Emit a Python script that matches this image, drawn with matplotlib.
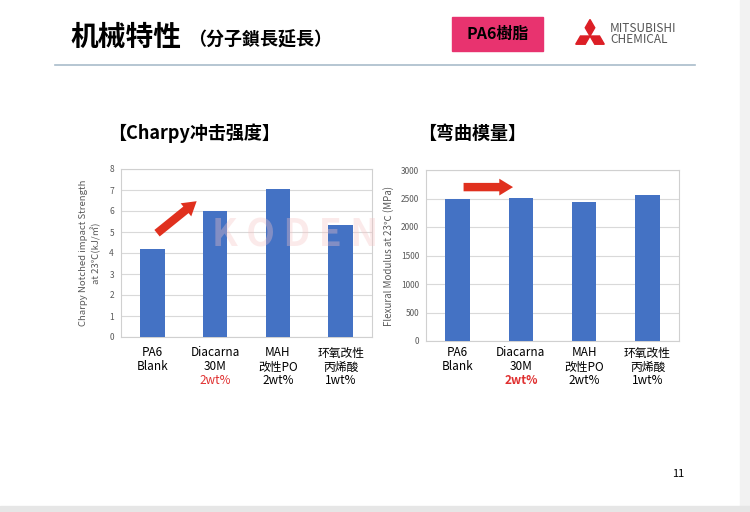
import numpy as np
import matplotlib
matplotlib.use("Agg")
import matplotlib.pyplot as plt
from matplotlib.patches import Rectangle, Polygon

plt.rcParams["font.family"] = ["Noto Sans CJK SC", "DejaVu Sans"]

# Data
cat_line1 = ["PA6", "Diacarna", "MAH", "环氧改性"]
cat_line2 = ["Blank", "30M", "改性PO", "丙烯酸"]
cat_line3 = ["", "2wt%", "2wt%", "1wt%"]
charpy = [4.2, 6.0, 7.05, 5.35]
flexural = [2490, 2510, 2440, 2570]
charpy_ticks = [0, 1, 2, 3, 4, 5, 6, 7, 8]
flex_ticks = [0, 500, 1000, 1500, 2000, 2500, 3000]

# arrow annotations (data coords)
charpy_arrow = ((0.04, 4.86), (0.74, 6.55))
flex_arrow = ((0.05, 2700), (0.92, 2700))

W, H = 750, 512
BAR = "#4472C4"
GRID = "#d9d9d9"

fig = plt.figure(figsize=(7.5, 5.12), dpi=100)
fig.patch.set_facecolor("white")


def px(x, y):
    # pixel position (from top-left) -> figure fraction
    return (x / W, 1 - y / H)


# slide border strips
fig.patches.append(Rectangle((0.987, 0), 0.013, 1, transform=fig.transFigure,
                             color="#f2f2f2", zorder=0))
fig.patches.append(Rectangle((0, 0), 1, 0.012, transform=fig.transFigure,
                             color="#e6e6e6", zorder=0))

# header
fig.text(*px(70, 38), "机械特性", fontsize=20, fontweight="bold", va="center")
fig.text(*px(188, 40), "（分子鎖長延長）", fontsize=13, fontweight="bold", va="center")
fig.lines.append(plt.Line2D([0.073, 0.927], [0.873, 0.873], transform=fig.transFigure,
                            color="#a9bccb", lw=1.2))
fig.patches.append(Rectangle(px(452, 51), 91 / W, 34 / H, transform=fig.transFigure,
                             color="#e8336f", zorder=1))
fig.text(*px(497.5, 34), "PA6樹脂", fontsize=11.5, fontweight="bold",
         ha="center", va="center")

# mitsubishi logo (three diamonds meeting at one point)
lc_x, lc_y, L = 590, 36, 16.5
for ang in [90, 210, 330]:
    a = np.deg2rad(ang)
    ux, uy = np.cos(a), -np.sin(a)
    vx, vy = -uy, ux
    hw = L / np.sqrt(3) / 2
    pts_px = [(lc_x, lc_y),
              (lc_x + ux * L / 2 + vx * hw, lc_y + uy * L / 2 + vy * hw),
              (lc_x + ux * L, lc_y + uy * L),
              (lc_x + ux * L / 2 - vx * hw, lc_y + uy * L / 2 - vy * hw)]
    fig.patches.append(Polygon([px(*p) for p in pts_px], closed=True,
                               transform=fig.transFigure, color="#dc1f26", zorder=2))
fig.text(*px(610, 34), "MITSUBISHI\nCHEMICAL", fontsize=8.5, color="#555555",
         va="center", linespacing=0.85)

# subtitles
fig.text(*px(108, 133), "【Charpy冲击强度】", fontsize=13, fontweight="bold", va="center")
fig.text(*px(418, 133), "【弯曲模量】", fontsize=13, fontweight="bold", va="center")

fig.text(*px(678, 474), "11", fontsize=8, ha="center", va="center")


def bar_panel(box, values, ticks, ylabel, red_bold, lpad, ylsize):
    x0, y0, x1, y1 = box
    ax = fig.add_axes([x0 / W, 1 - y1 / H, (x1 - x0) / W, (y1 - y0) / H])
    x = np.arange(len(values))
    ax.bar(x, values, width=0.39, color=BAR, zorder=3)
    ax.set_xlim(-0.5, len(values) - 0.5)
    ax.set_ylim(ticks[0], ticks[-1])
    ax.set_yticks(ticks)
    ax.yaxis.grid(True, color=GRID, lw=0.8, zorder=0)
    ax.set_xticks(x)
    ax.set_xticklabels([])
    ax.tick_params(axis="x", length=0)
    ax.tick_params(axis="y", length=0, labelsize=6, labelcolor="#595959", pad=5)
    for s in ax.spines.values():
        s.set_color("#d0d0d0")
        s.set_linewidth(0.8)
    ax.set_ylabel(ylabel, fontsize=ylsize, color="#595959", labelpad=lpad,
                  linespacing=1.3)
    tr = ax.get_xaxis_transform()
    hpx = y1 - y0
    rows = [(353, cat_line1), (367, cat_line2), (381, cat_line3)]
    for i in x:
        for ry, lab in rows:
            color, weight = "black", "normal"
            if lab is cat_line3 and i == 1:
                color = "#e03030"
                weight = "bold" if red_bold else "normal"
            ax.text(i, -(ry - y1) / hpx, lab[i], transform=tr, ha="center",
                    va="center", fontsize=8.5, color=color, fontweight=weight)
    return ax


ax1 = bar_panel((121, 169, 372, 337), charpy, charpy_ticks,
                "Charpy Notched impact Strength\nat 23℃(kJ/㎡)", False, 6, 6.9)
ax2 = bar_panel((426, 170, 679, 341), flexural, flex_ticks,
                "Flexural Modulus at 23℃ (MPa)", True, 5, 7)

astyle = "simple,head_width=1.1,head_length=0.9,tail_width=0.55"
ax1.annotate("", xy=charpy_arrow[1], xytext=charpy_arrow[0],
             arrowprops=dict(arrowstyle=astyle, color="#e0301e",
                             mutation_scale=11, lw=0), zorder=5)
ax2.annotate("", xy=flex_arrow[1], xytext=flex_arrow[0],
             arrowprops=dict(arrowstyle=astyle, color="#e0301e",
                             mutation_scale=11, lw=0), zorder=5)

# faint watermark
fig.text(*px(295, 235), "K O D E N", fontsize=27, fontweight="bold", color="#f6c4c4",
         alpha=0.35, ha="center", va="center", zorder=10)

fig.savefig("out.png", dpi=100)
